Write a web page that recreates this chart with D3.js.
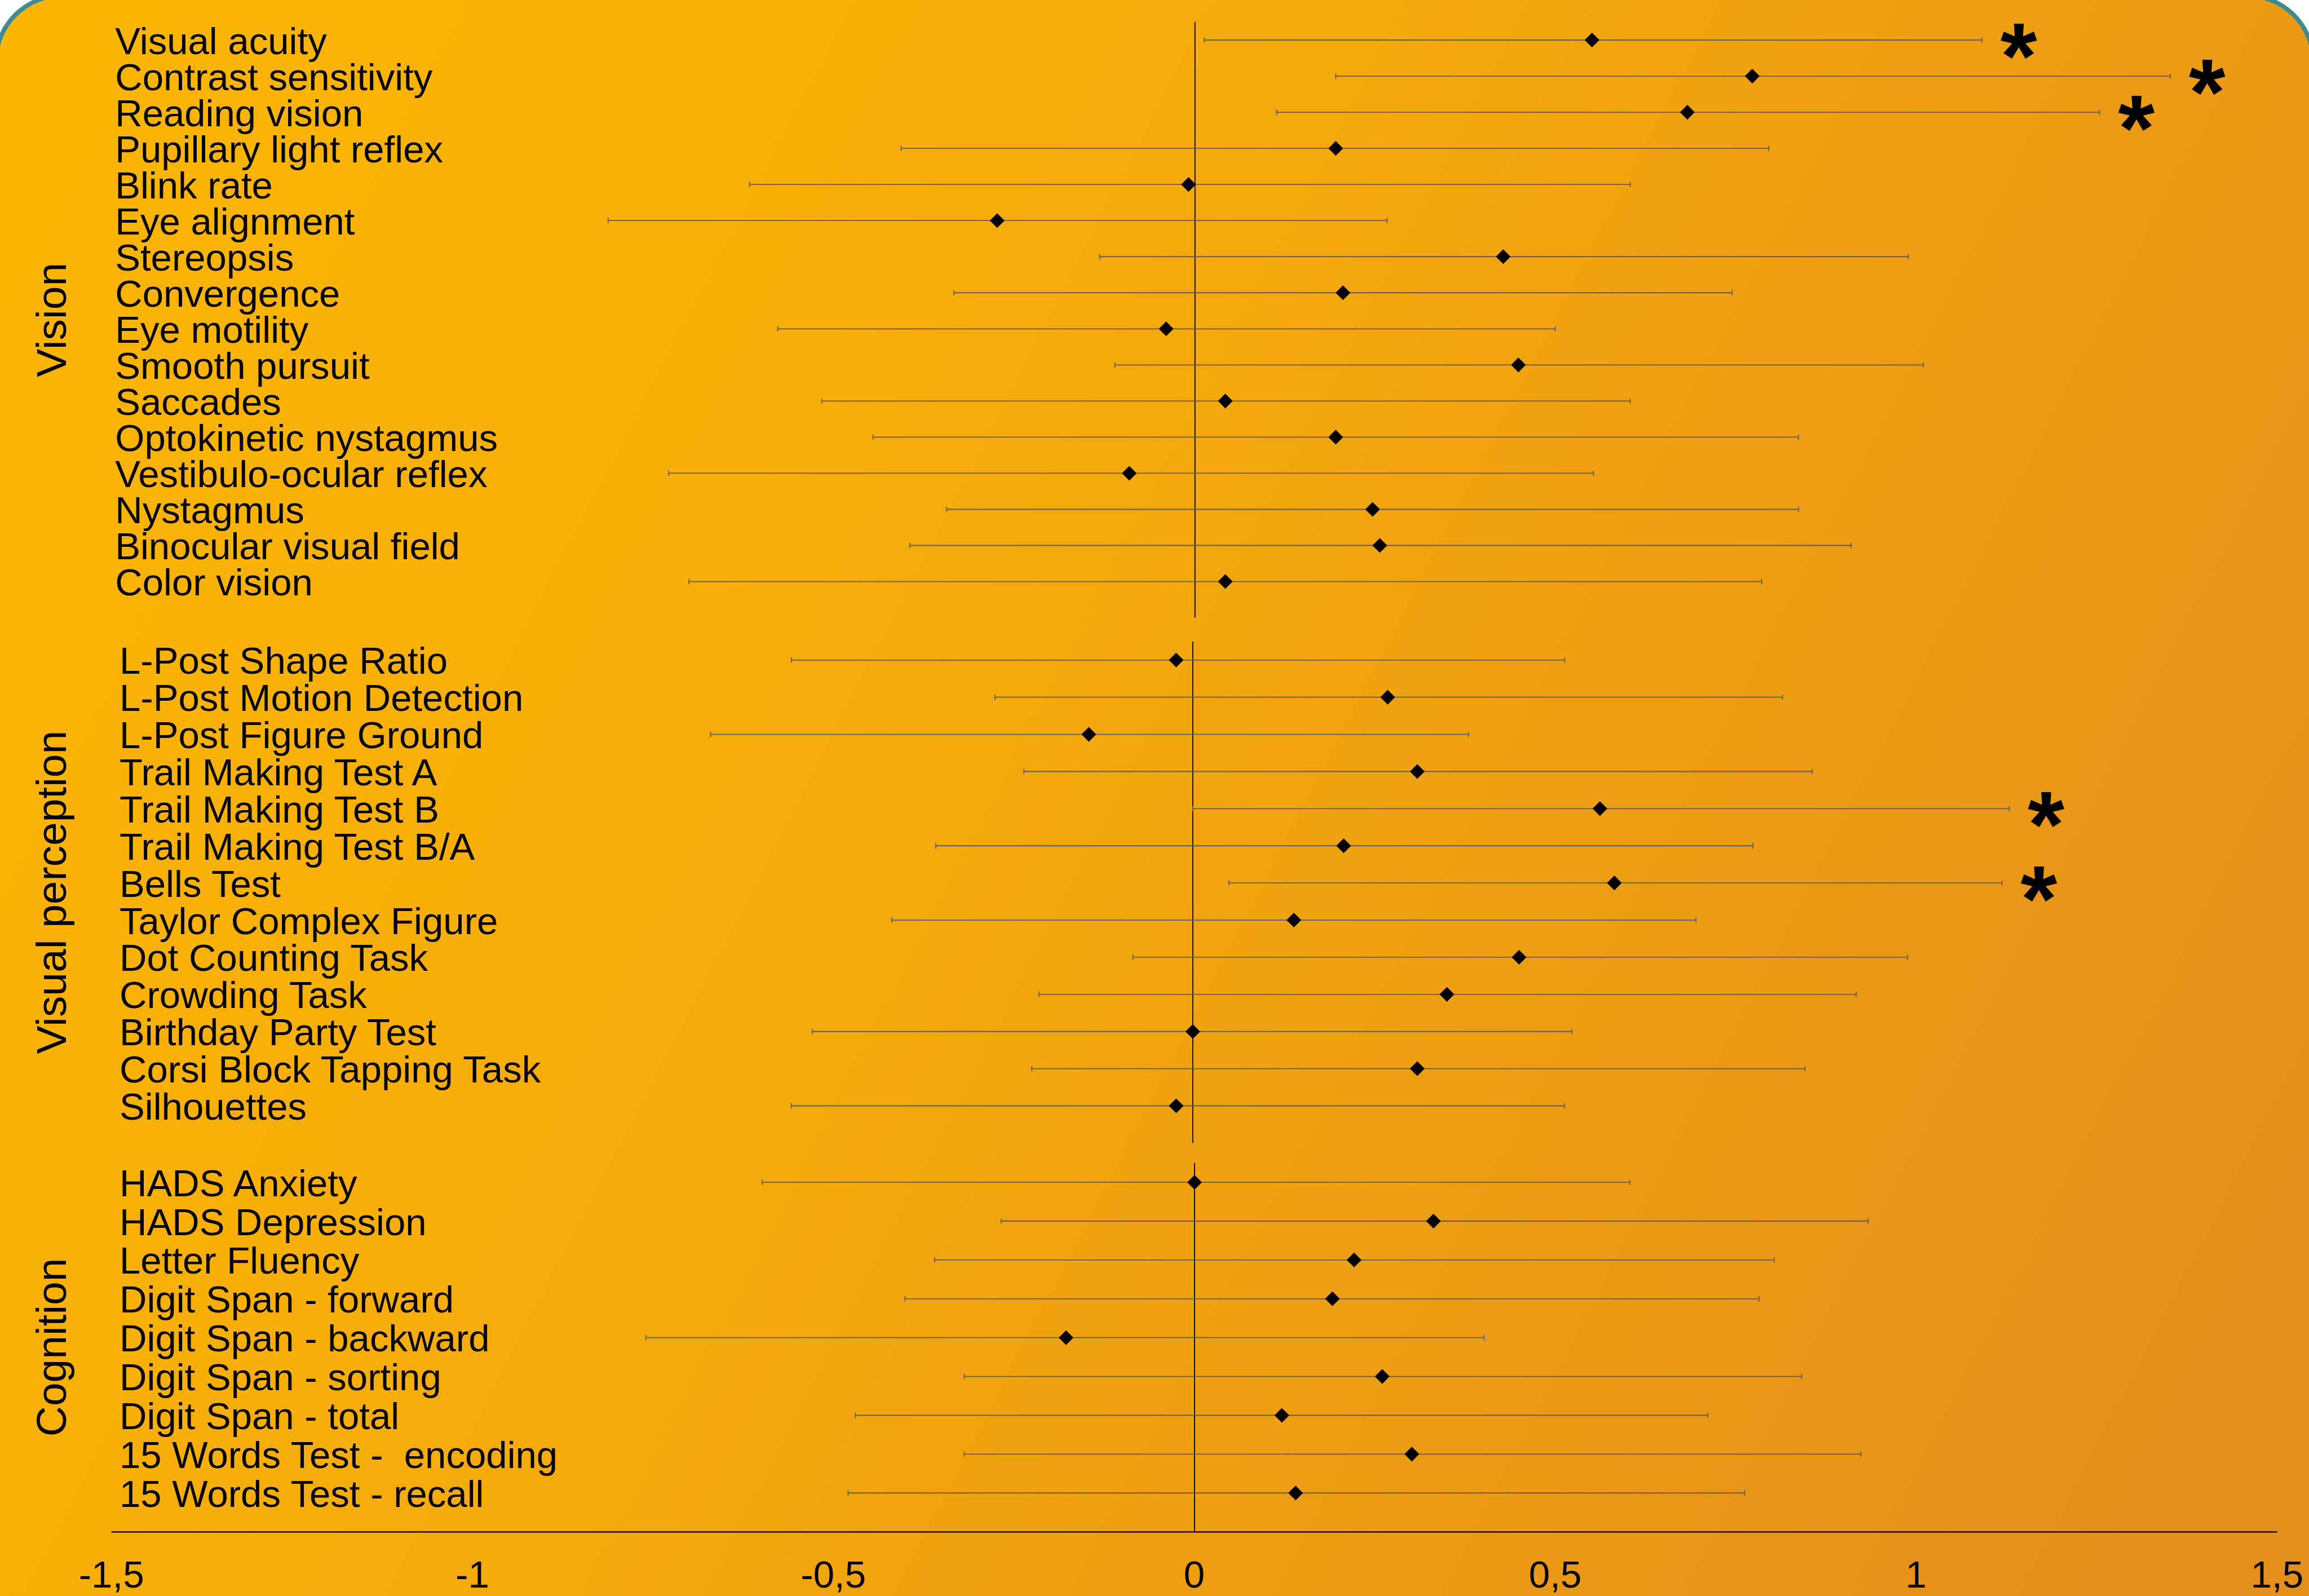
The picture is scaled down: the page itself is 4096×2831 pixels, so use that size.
<!DOCTYPE html>
<html><head><meta charset="utf-8">
<script src="https://cdn.jsdelivr.net/npm/d3@7"></script>
<style>html,body{margin:0;padding:0;background:#fff;overflow:hidden}</style>
</head><body><script>
// ---------- DATA ----------
const visionLabels = ["Visual acuity","Contrast sensitivity","Reading vision","Pupillary light reflex","Blink rate","Eye alignment","Stereopsis","Convergence","Eye motility","Smooth pursuit","Saccades","Optokinetic nystagmus","Vestibulo-ocular reflex","Nystagmus","Binocular visual field","Color vision"];
const visionEstimate = [0.55,0.772,0.682,0.195,-0.009,-0.274,0.427,0.205,-0.040,0.448,0.042,0.195,-0.091,0.246,0.256,0.042];
const visionLower    = [0.013,0.195,0.113,-0.407,-0.617,-0.813,-0.132,-0.334,-0.578,-0.111,-0.517,-0.446,-0.729,-0.344,-0.395,-0.701];
const visionUpper    = [1.090,1.351,1.253,0.795,0.603,0.266,0.988,0.744,0.499,1.009,0.603,0.836,0.552,0.836,0.909,0.785];
const visionSignificant = ["Visual acuity","Contrast sensitivity","Reading vision"];

const perceptionLabels = ["L-Post Shape Ratio","L-Post Motion Detection","L-Post Figure Ground","Trail Making Test A","Trail Making Test B","Trail Making Test B/A","Bells Test","Taylor Complex Figure","Dot Counting Task","Crowding Task","Birthday Party Test","Corsi Block Tapping Task","Silhouettes"];
const perceptionEstimate = [-0.023,0.270,-0.144,0.311,0.564,0.209,0.584,0.140,0.452,0.352,0.0,0.311,-0.023];
const perceptionLower    = [-0.556,-0.274,-0.668,-0.234,0.0,-0.356,0.050,-0.417,-0.083,-0.213,-0.527,-0.223,-0.556];
const perceptionUpper    = [0.515,0.817,0.382,0.858,1.131,0.776,1.121,0.697,0.990,0.919,0.525,0.848,0.515];
const perceptionSignificant = ["Trail Making Test B","Bells Test"];

const cognitionLabels = ["HADS Anxiety","HADS Depression","Letter Fluency","Digit Span - forward","Digit Span - backward","Digit Span - sorting","Digit Span - total","15 Words Test -  encoding","15 Words Test - recall"];
const cognitionEstimate = [0.0,0.331,0.221,0.191,-0.178,0.260,0.121,0.301,0.140];
const cognitionLower    = [-0.599,-0.268,-0.360,-0.401,-0.760,-0.319,-0.470,-0.319,-0.480];
const cognitionUpper    = [0.603,0.933,0.803,0.782,0.401,0.841,0.711,0.923,0.762];
const cognitionSignificant = [];

const groupNames = ["Vision","Visual perception","Cognition"];
const xTicks = [-1.5,-1,-0.5,0,0.5,1,1.5];

// ---------- LAYOUT ----------
const W = 1568, H = 1084;
const FONT = "'Liberation Sans', Arial, Helvetica, sans-serif";
const svg = d3.select("body").append("svg")
  .attr("width", 4096).attr("height", 2831)
  .attr("viewBox", `0 0 ${W} ${H}`)
  .style("display","block");

const defs = svg.append("defs");
const grad = defs.append("linearGradient").attr("id","bg")
  .attr("gradientUnits","userSpaceOnUse")
  .attr("x1",0).attr("y1",0).attr("x2",W).attr("y2",H*0.75);
[[0,"#FBB604"],[0.35,"#F7AE09"],[0.6,"#F0A310"],[1,"#E48F1B"]].forEach(([o,c]) =>
  grad.append("stop").attr("offset",o).attr("stop-color",c));

svg.append("rect").attr("width",W).attr("height",H).attr("fill","#ffffff");
svg.append("rect").attr("x",-3).attr("y",-3).attr("width",W+6).attr("height",H+150)
  .attr("rx",45).attr("ry",45)
  .attr("fill","url(#bg)").attr("stroke","#3D8C95").attr("stroke-width",3);

const x = d3.scaleLinear().domain([-1.5,1.5]).range([75,1546]);

const panels = [
  {name:groupNames[0], labels:visionLabels, est:visionEstimate, lo:visionLower, hi:visionUpper, sig:visionSignificant,
   first:27.2, end:419.5, labelX:78, dx:1.0},
  {name:groupNames[1], labels:perceptionLabels, est:perceptionEstimate, lo:perceptionLower, hi:perceptionUpper, sig:perceptionSignificant,
   first:448.3, end:776.3, labelX:81, dx:-0.5},
  {name:groupNames[2], labels:cognitionLabels, est:cognitionEstimate, lo:cognitionLower, hi:cognitionUpper, sig:cognitionSignificant,
   first:803, end:1040.4, labelX:81, dx:0.7}
];

const diamond = d3.symbol(d3.symbolSquare, 50)();

panels.forEach(p => {
  const y = d3.scalePoint().domain([...p.labels, "__end"]).range([p.first, p.end]).padding(0);
  const step = y.step();
  const rows = p.labels.map((l,i) => ({label:l, est:p.est[i], lo:p.lo[i], hi:p.hi[i], sig:p.sig.includes(l)}));

  // category labels
  svg.append("g").selectAll("text").data(rows).join("text")
    .attr("x", p.labelX).attr("y", d => y(d.label)).attr("dy","0.365em")
    .attr("font-family", FONT).attr("font-size", 25.7).attr("fill","#000")
    .style("white-space","pre")
    .text(d => d.label);

  // group title
  const mid = (y(p.labels[0]) - step/2 + y("__end")) / 2;
  svg.append("text")
    .attr("transform", `translate(44.8,${mid}) rotate(-90)`)
    .attr("text-anchor","middle")
    .attr("font-family", FONT).attr("font-size", 28.7).attr("fill","#000")
    .text(p.name);

  const g = svg.append("g").attr("transform", `translate(${p.dx},0)`);

  // zero reference line
  g.append("line")
    .attr("x1", x(0)).attr("x2", x(0))
    .attr("y1", y(p.labels[0]) - step/2).attr("y2", y("__end"))
    .attr("stroke","#000").attr("stroke-width",0.7);

  // error bars
  const eb = g.append("g").attr("stroke","#5e5e5e").attr("stroke-width",0.7).attr("fill","none");
  eb.selectAll("line.bar").data(rows).join("line").attr("class","bar")
    .attr("x1", d => x(d.lo)).attr("x2", d => x(d.hi))
    .attr("y1", d => y(d.label)).attr("y2", d => y(d.label));
  eb.selectAll("line.capl").data(rows).join("line").attr("class","capl")
    .attr("x1", d => x(d.lo)).attr("x2", d => x(d.lo))
    .attr("y1", d => y(d.label) - 1.8).attr("y2", d => y(d.label) + 1.8);
  eb.selectAll("line.caph").data(rows).join("line").attr("class","caph")
    .attr("x1", d => x(d.hi)).attr("x2", d => x(d.hi))
    .attr("y1", d => y(d.label) - 1.8).attr("y2", d => y(d.label) + 1.8);

  // point estimates
  g.selectAll("path.pt").data(rows).join("path").attr("class","pt")
    .attr("d", diamond)
    .attr("transform", d => `translate(${x(d.est)},${y(d.label)}) rotate(45)`)
    .attr("fill","#000");

  // significance stars
  g.selectAll("text.star").data(rows.filter(d => d.sig)).join("text").attr("class","star")
    .attr("x", d => x(d.hi) + 25).attr("y", d => y(d.label) - 3)
    .attr("dy","0.56em")
    .attr("text-anchor","middle")
    .attr("font-family", FONT).attr("font-weight","bold").attr("font-size", 64).attr("fill","#000")
    .text("*");
});

// x axis
const axis = d3.axisBottom(x).tickValues(xTicks).tickSize(0)
  .tickFormat(v => String(v).replace(".", ","));
const ax = svg.append("g").attr("transform","translate(0,1040)").call(axis);
ax.select(".domain").attr("stroke","#000").attr("stroke-width",0.8);
ax.selectAll("text").attr("y",38.4).attr("dy",null)
  .attr("font-family", FONT).attr("font-size",25.8).attr("fill","#000");
</script></body></html>
